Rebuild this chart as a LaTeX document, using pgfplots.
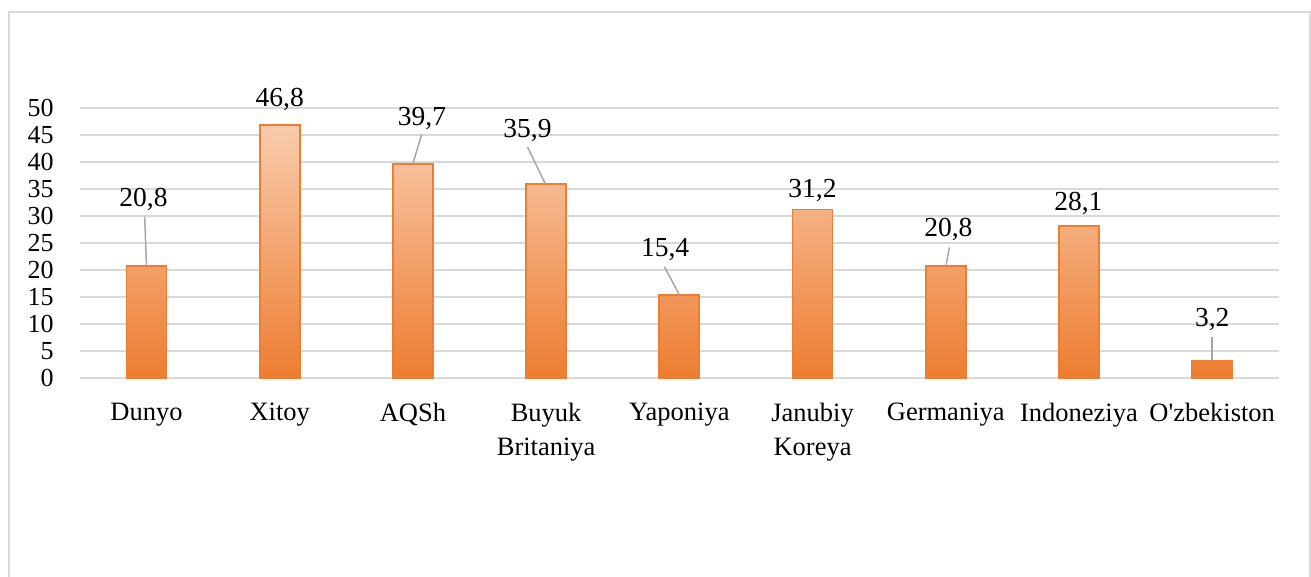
\documentclass[border=0pt]{standalone}
\usepackage{fontspec}
\setmainfont{Liberation Serif}
\usepackage{pgfplots}
\usepackage{pgfplotstable}
\pgfplotsset{compat=1.18}
\definecolor{barorange}{HTML}{ED7D31}
\definecolor{bartop}{HTML}{F8CBAD}
\definecolor{gridgray}{HTML}{D9D9D9}
\definecolor{leadergray}{HTML}{A6A6A6}

\pgfplotstableread{
x y
0 20.8
1 46.8
2 39.7
3 35.9
4 15.4
5 31.2
6 20.8
7 28.1
8 3.2
}\bardata

\pgfplotstableread{
x y lab
-0.023 31.85 20,8
1.0 50.2 46,8
2.068 46.85 39,7
2.86 44.57 35,9
3.893 22.47 15,4
5.0 33.5 31,2
6.02 26.17 20,8
6.995 31.0 28,1
8.0 9.5 3,2
}\labdata

\begin{document}
\begin{tikzpicture}
\useasboundingbox (-79.9pt,-199pt) rectangle (1231.1pt,378pt);
\draw[gridgray, line width=1.5pt] (-70.9pt,-210pt) -- (-70.9pt,366pt) -- (1230.1pt,366pt) -- (1230.1pt,-210pt);
\begin{axis}[
  at={(0pt,0pt)}, anchor=south west,
  scale only axis,
  width=1199pt, height=270pt,
  xmin=-0.5, xmax=8.5, ymin=0, ymax=50,
  clip=false,
  axis line style={draw=none},
  tick style={draw=none},
  ymajorgrids,
  major grid style={gridgray, line width=1.5pt},
  ytick distance=5,
  xtick={0,...,8},
  xticklabels={Dunyo, Xitoy, AQSh, {Buyuk\\Britaniya}, Yaponiya, {Janubiy\\Koreya}, Germaniya, Indoneziya, {O\textquotesingle zbekiston}},
  /pgf/number format/assume math mode=true,
  yticklabel style={font=\fontsize{26}{30}\selectfont, anchor=east, inner sep=0pt, xshift=-26pt},
  xticklabel style={font=\fontsize{26.5}{34}\selectfont, align=center, anchor=north, inner sep=0pt, yshift=-25pt},
]
\addplot[ybar, bar width=0.3, draw=barorange, line width=1.8pt, top color=bartop, bottom color=barorange] table[x=x, y=y] {\bardata};
\addplot[leadergray, line width=1.5pt, no markers, forget plot] coordinates {(-0.014,29.87) (0.0,20.8)};
\addplot[leadergray, line width=1.5pt, no markers, forget plot] coordinates {(2.066,45.1) (1.999,39.7)};
\addplot[leadergray, line width=1.5pt, no markers, forget plot] coordinates {(2.86,42.8) (2.995,35.9)};
\addplot[leadergray, line width=1.5pt, no markers, forget plot] coordinates {(3.888,20.6) (4.0,15.4)};
\addplot[leadergray, line width=1.5pt, no markers, forget plot] coordinates {(6.027,24.2) (6.002,20.8)};
\addplot[leadergray, line width=1.5pt, no markers, forget plot] coordinates {(8.0,7.53) (8.0,3.2)};
\addplot[draw=none, no markers, forget plot, nodes near coords, point meta=explicit symbolic,
  every node near coord/.append style={anchor=base, inner sep=0pt, font=\fontsize{27.5}{30}\selectfont, text=black}]
  table[x=x, y=y, meta=lab] {\labdata};
\end{axis}
\end{tikzpicture}
\end{document}
